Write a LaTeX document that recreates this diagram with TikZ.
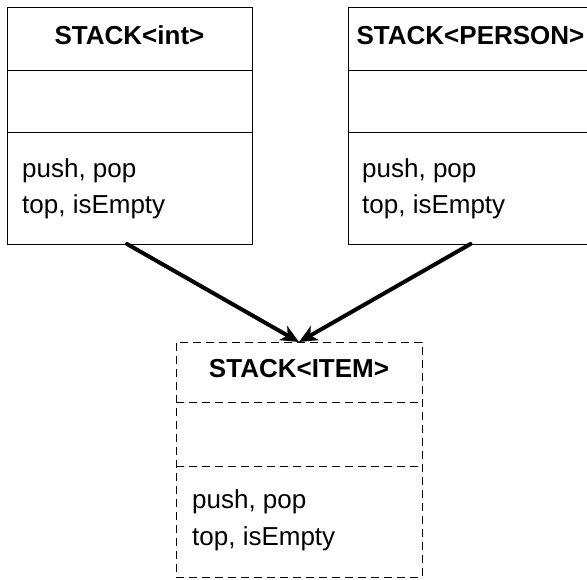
\documentclass[tikz,border=0pt]{standalone}
\usepackage{fontspec}
\setmainfont{Liberation Sans}
\usetikzlibrary{arrows.meta}
\begin{document}
\begin{tikzpicture}[x=1pt,y=-1pt,
  box/.style={draw, line width=1pt, minimum width=245pt, minimum height=237pt, anchor=north west, inner sep=0pt, outer sep=0pt},
  dbox/.style={box, dash pattern=on 8pt off 5pt, minimum width=246pt, minimum height=235pt},
  divider/.style={line width=1pt},
  ddivider/.style={line width=1pt, dash pattern=on 8pt off 5pt},
  title/.style={font=\bfseries\fontsize{26}{31}\selectfont, anchor=base, inner sep=0pt},
  body/.style={font=\fontsize{26}{31}\selectfont, anchor=base west, inner sep=0pt},
  arr/.style={line width=4pt, line cap=round, -{Stealth[length=18pt,width=16pt,inset=5pt]}}
]
\useasboundingbox (0,0) rectangle (587,579);
\clip (0,0) rectangle (587,579);
% left box
\node[box] (L) at (7,7) {};
\draw[divider] ([yshift=-63pt]L.north west) -- ([yshift=-63pt]L.north east);
\draw[divider] ([yshift=-125pt]L.north west) -- ([yshift=-125pt]L.north east);
\node[title] (Lt) at (129.5,44) {STACK<int>};
\node[body] (Lb1) at (22,177) {push, pop};
\node[body] (Lb2) at (22,213) {top, isEmpty};
% right box
\node[box] (R) at (348,7) {};
\draw[divider] ([yshift=-63pt]R.north west) -- ([yshift=-63pt]R.north east);
\draw[divider] ([yshift=-125pt]R.north west) -- ([yshift=-125pt]R.north east);
\node[title] (Rt) at (470.5,44) {STACK<PERSON>};
\node[body] (Rb1) at (362,177) {push, pop};
\node[body] (Rb2) at (362,213) {top, isEmpty};
% bottom box
\node[dbox] (B) at (176,342) {};
\draw[ddivider] ([yshift=-60pt]B.north west) -- ([yshift=-60pt]B.north east);
\draw[ddivider] ([yshift=-124pt]B.north west) -- ([yshift=-124pt]B.north east);
\node[title] (Bt) at (299,377) {STACK<ITEM>};
\node[body] (Bb1) at (192,508) {push, pop};
\node[body] (Bb2) at (192,545) {top, isEmpty};
% arrows
\coordinate (Ls) at ([xshift=-2.5pt]L.south);
\draw[arr] (Ls) -- (B.north);
\draw[arr] (R.south) -- (B.north);
\end{tikzpicture}
\end{document}
